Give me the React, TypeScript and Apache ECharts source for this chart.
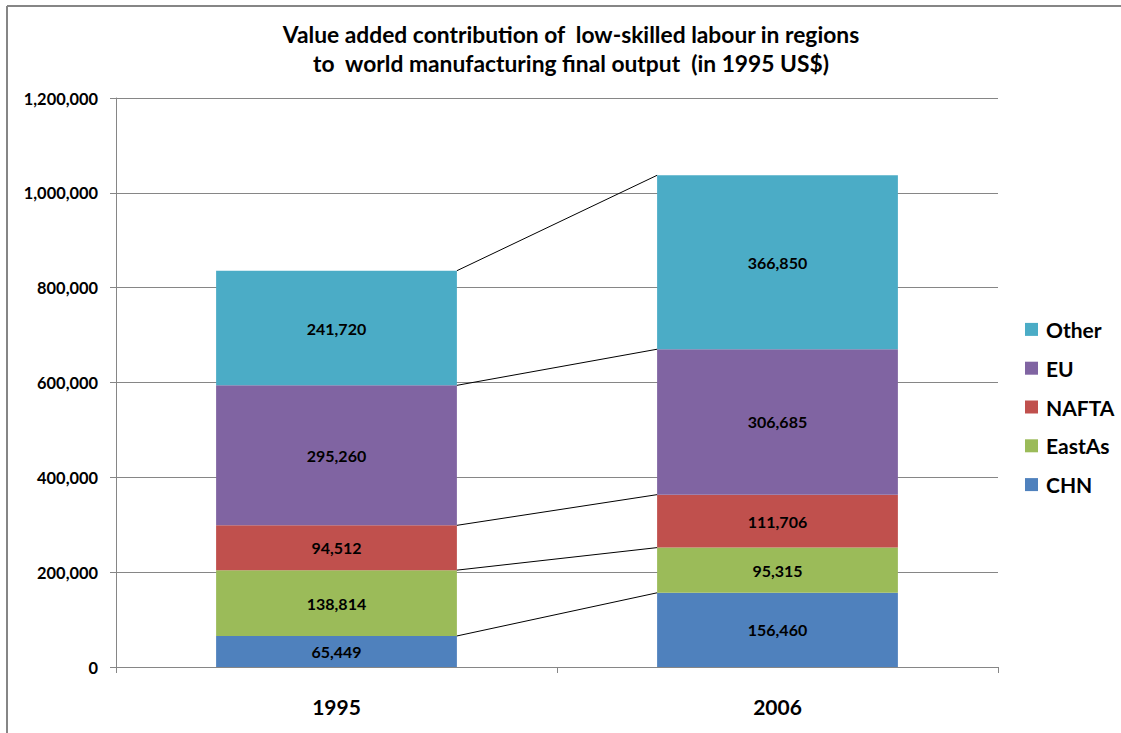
import React, { useEffect, useRef } from "react";
import * as echarts from "echarts";

const categories = ["1995", "2006"];
const seriesNames = ["CHN", "EastAs", "NAFTA", "EU", "Other"];
const chn = [65449, 156460];
const eastAs = [138814, 95315];
const nafta = [94512, 111706];
const eu = [295260, 306685];
const other = [241720, 366850];
const colors = ["#4F81BD", "#9BBB59", "#C0504D", "#8064A2", "#4BACC6"];
const yTicks = [0, 200000, 400000, 600000, 800000, 1000000, 1200000];

const FONT = "Lato";
const BAR_W = 0.546;

export default function App() {
  const ref = useRef<HTMLDivElement>(null);
  useEffect(() => {
    if (!ref.current) return;
    const chart = echarts.init(ref.current, null, { renderer: "svg" });
    const values = [chn, eastAs, nafta, eu, other];
    const cumA: number[] = [];
    const cumB: number[] = [];
    let a = 0, b = 0;
    values.forEach((v) => {
      a += v[0];
      b += v[1];
      cumA.push(a);
      cumB.push(b);
    });
    const fmt = (n: number) => n.toLocaleString("en-US");
    const bars = seriesNames.map((name, i) => ({
      name,
      type: "bar",
      stack: "total",
      barWidth: BAR_W * 100 + "%",
      itemStyle: { color: colors[i] },
      label: {
        show: true,
        position: "inside",
        color: "#000",
        fontFamily: FONT,
        fontWeight: "bold",
        fontSize: 16,
        formatter: (p: any) => fmt(p.value),
      },
      data: values[i],
    }));
    const connectors = {
      type: "custom",
      name: "connectors",
      silent: true,
      z: 5,
      encode: { x: 0, y: [1, 2] },
      data: cumA.map((v, i) => [0, v, cumB[i]]),
      renderItem: (params: any, api: any) => {
        const band = api.size([1, 0])[0];
        const half = (band * BAR_W) / 2;
        const p1 = api.coord([0, api.value(1)]);
        const p2 = api.coord([1, api.value(2)]);
        return {
          type: "line",
          shape: { x1: p1[0] + half, y1: p1[1], x2: p2[0] - half, y2: p2[1] },
          style: { stroke: "#000", lineWidth: 1 },
        };
      },
    };
    chart.setOption({
      animation: false,
      backgroundColor: "#fff",
      textStyle: { fontFamily: FONT },
      title: {
        text: "Value added contribution of  low-skilled labour in regions\nto  world manufacturing final output  (in 1995 US$)",
        left: 566,
        textAlign: "center",
        top: 14,
        textStyle: {
          fontFamily: FONT,
          fontWeight: "bold",
          fontSize: 22.8,
          lineHeight: 29,
          color: "#000",
        },
      },
      legend: {
        orient: "vertical",
        left: 1025,
        top: 317,
        padding: 0,
        itemWidth: 13,
        itemHeight: 13,
        itemGap: 14,
        icon: "rect",
        data: ["Other", "EU", "NAFTA", "EastAs", "CHN"],
        textStyle: {
          fontFamily: FONT,
          fontWeight: "bold",
          fontSize: 21,
          lineHeight: 24.8,
          color: "#000",
          padding: [0, 0, 0, 3],
        },
      },
      grid: { left: 116, right: 123, top: 98, bottom: 66 },
      xAxis: {
        type: "category",
        data: categories,
        axisLine: { lineStyle: { color: "#868686", width: 1 } },
        axisTick: { show: true, length: 6, lineStyle: { color: "#868686" } },
        axisLabel: {
          color: "#000",
          fontFamily: FONT,
          fontWeight: "bold",
          fontSize: 21,
          margin: 29,
        },
      },
      yAxis: {
        type: "value",
        min: 0,
        max: 1200000,
        interval: 200000,
        axisLine: { show: true, lineStyle: { color: "#868686" } },
        axisTick: { show: true, length: 6, lineStyle: { color: "#868686" } },
        splitLine: { lineStyle: { color: "#868686" } },
        axisLabel: {
          color: "#000",
          fontFamily: FONT,
          fontWeight: "bold",
          fontSize: 16.4,
          margin: 18,
          formatter: (v: number) => (yTicks.includes(v) ? fmt(v) : ""),
        },
      },
      graphic: [
        {
          type: "line",
          shape: { x1: 7, y1: 6, x2: 1121, y2: 6 },
          style: { stroke: "#868686", lineWidth: 2 },
        },
        {
          type: "line",
          shape: { x1: 7, y1: 6, x2: 7, y2: 733 },
          style: { stroke: "#868686", lineWidth: 2 },
        },
      ],
      series: [...bars, connectors],
    });
    return () => chart.dispose();
  }, []);
  return (
    <div
      ref={ref}
      style={{ position: "fixed", left: 0, top: 0, width: 1121, height: 733 }}
    />
  );
}
